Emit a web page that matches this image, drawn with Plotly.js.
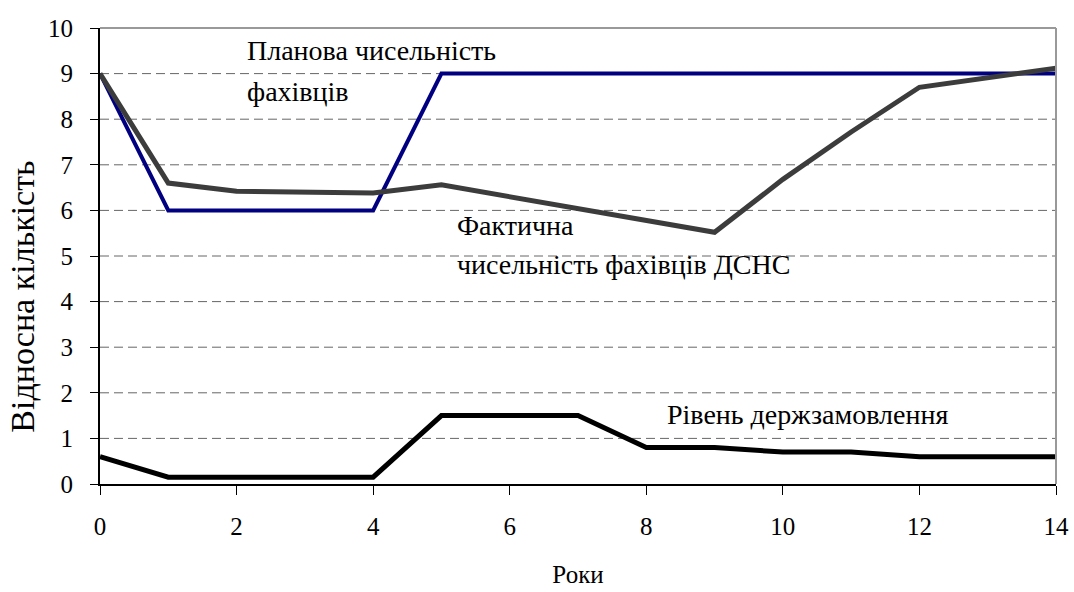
<!DOCTYPE html>
<html>
<head>
<meta charset="utf-8">
<script src="https://cdn.plot.ly/plotly-3.0.1.min.js"></script>
<style>html,body{margin:0;padding:0;background:#fff;}#chart{width:1074px;height:592px;}</style>
</head>
<body>
<div id="chart"></div>
<script>
const years = [0,1,2,3,4,5,6,7,8,9,10,11,12,13,14];
const planned = [9,6,6,6,6,9,9,9,9,9,9,9,9,9,9];
const actual = [9,6.6,6.42,6.4,6.38,6.56,6.3,6.02,5.76,5.52,6.68,7.72,8.7,8.92,9.12];
const stateOrder = [0.6,0.15,0.15,0.15,0.15,1.5,1.5,1.5,0.8,0.8,0.7,0.7,0.6,0.6,0.6];
const yTicks = [0,1,2,3,4,5,6,7,8,9,10];
const xTicks = [0,2,4,6,8,10,12,14];

const FAM = 'Liberation Serif, Times New Roman, serif';
const traces = [
  {x: years, y: planned, mode: 'lines', line: {color: '#000080', width: 4}, name: 'Планова чисельність фахівців'},
  {x: years, y: actual, mode: 'lines', line: {color: '#3c3c3c', width: 5}, name: 'Фактична чисельність фахівців ДСНС'},
  {x: years, y: stateOrder, mode: 'lines', line: {color: '#000', width: 5}, name: 'Рівень держзамовлення'}
];
const gridShapes = [1,2,3,4,5,6,7,8,9].map(v => ({
  type: 'line', xref: 'paper', x0: 0, x1: 1, yref: 'y', y0: v, y1: v,
  line: {color: '#666', width: 1, dash: '9px,5px'}, layer: 'below'
}));
gridShapes.push({type:'line', xref:'paper', yref:'paper', x0:0, x1:1, y0:1, y1:1, line:{color:'#999', width:2}});
gridShapes.push({type:'line', xref:'paper', yref:'paper', x0:1, x1:1, y0:0, y1:1, line:{color:'#999', width:2}});

const ann = (x, y, text) => ({x, y, xref:'x', yref:'y', text, showarrow:false, xanchor:'left', yanchor:'middle', font:{family: FAM, size: 28, color: '#000'}});
const layout = {
  width: 1074, height: 592,
  margin: {l: 100, r: 18, t: 28, b: 108},
  paper_bgcolor: '#fff', plot_bgcolor: '#fff',
  showlegend: false,
  font: {family: FAM, size: 24, color: '#000'},
  xaxis: {
    range: [0, 14], tickvals: xTicks, ticktext: xTicks.map(String),
    showgrid: false, zeroline: false, showline: true, linecolor: '#000', linewidth: 2,
    ticks: 'outside', ticklen: 9, tickwidth: 1, tickcolor: '#000', ticklabelstandoff: 10,
    tickfont: {family: FAM, size: 25, color: '#000'},
    title: {text: 'Роки', font: {family: FAM, size: 25, color: '#000'}, standoff: 26}
  },
  yaxis: {
    range: [0, 10], tickvals: yTicks, ticktext: yTicks.map(String),
    showgrid: false, zeroline: false, showline: true, linecolor: '#000', linewidth: 2,
    ticks: 'outside', ticklen: 8, tickwidth: 1, tickcolor: '#000', ticklabelstandoff: 12,
    tickfont: {family: FAM, size: 25, color: '#000'}
  },
  shapes: gridShapes,
  annotations: [
    ann(2.13, 9.5, 'Планова чисельність'),
    ann(2.13, 8.6, 'фахівців'),
    ann(5.2, 5.66, 'Фактична'),
    ann(5.2, 4.82, 'чисельність фахівців ДСНС'),
    ann(8.27, 1.52, 'Рівень держзамовлення'),
    {xref: 'paper', yref: 'paper', x: -0.082, y: 0.41, xanchor: 'center', yanchor: 'middle',
     text: 'Відносна кількість', textangle: -90, showarrow: false,
     font: {family: FAM, size: 34, color: '#000'}}
  ]
};
Plotly.newPlot('chart', traces, layout, {displayModeBar: false, staticPlot: true});
</script>
</body>
</html>
